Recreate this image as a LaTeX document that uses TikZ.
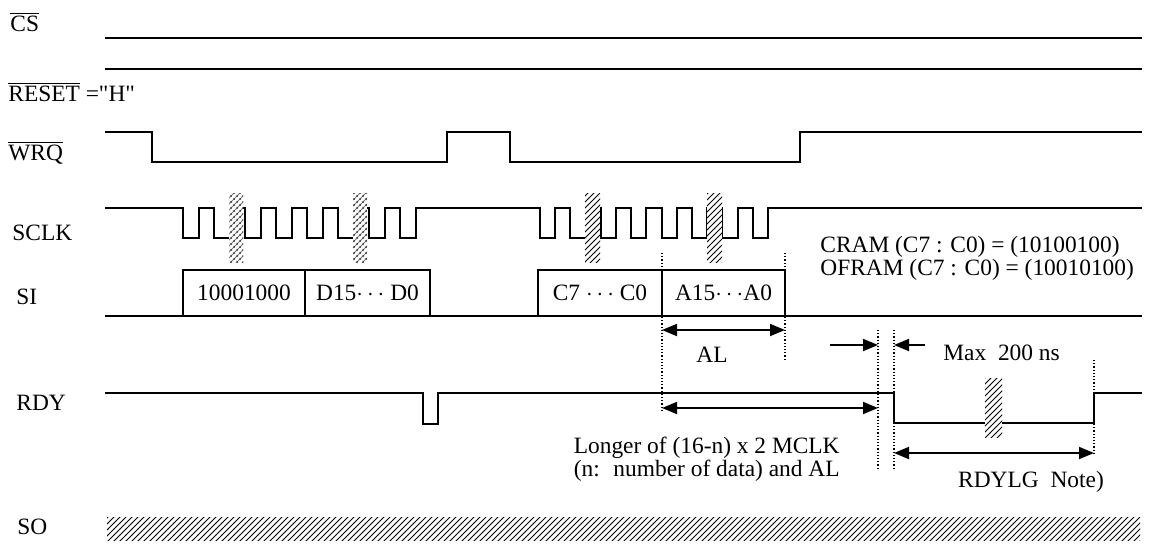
\documentclass[tikz,border=0pt]{standalone}
\usepackage{fontspec}
\setmainfont{Liberation Serif}
\usetikzlibrary{arrows.meta,patterns}

\begin{document}
\begin{tikzpicture}[x=0.5pt, y=-0.5pt,
  every node/.style={font=\fontsize{11.7}{11.7}\selectfont, inner sep=0pt},
  sig/.style={line width=1pt},
  guide/.style={densely dotted, line width=0.6pt},
  dim/.style={line width=0.9pt, >={Triangle[length=7.5pt,width=6pt]}},
  lbl/.style={anchor=west},
  bitbox/.style={draw, line width=1pt, minimum height=23pt},
  hatchbar/.style={fill=white, postaction={pattern=north east lines}},
  dotbar/.style={fill=white, postaction={pattern=north east lines, pattern color=gray},
    postaction={pattern=crosshatch dots, pattern color=black!80}}]

\useasboundingbox (0,0) rectangle (1162,547);

% signal names
\node[lbl] (cs_name) at (10,22) {$\overline{\mbox{CS}}$};
\node[lbl] (reset_name) at (8,92) {$\overline{\mbox{RESET}}$ =\textquotedbl H\textquotedbl};
\node[lbl] (wrq_name) at (8,153) {$\overline{\mbox{WRQ}}$};
\node[lbl] (sclk_name) at (12,233) {SCLK};
\node[lbl] (si_name) at (16,297) {SI};
\node[lbl] (rdy_name) at (16,403) {RDY};
\node[lbl] (so_name) at (17,527) {SO};


% CS and RESET stay put
\draw[sig] (105,38) -- (1142,38);
\draw[sig] (105,69) -- (1142,69);


% WRQ
\draw[sig] (105,132) -- (152,132) -- (152,162) -- (447,162) -- (447,132)
  -- (510,132) -- (510,162) -- (800,162) -- (800,132) -- (1142,132);


% SCLK, two bursts of 8
\draw[sig] (105,208)
  foreach \k in {0,...,7} { -- ({183+31*\k},208) -- ++(0,30) -- ++(15.5,0) -- ++(0,-30) }
  -- (540,208)
  foreach \k in {0,...,7} { -- ({540+30.4*\k},208) -- ++(0,30) -- ++(15.2,0) -- ++(0,-30) }
  -- (1142,208);

\foreach \a in {229,353}
  \draw[dotbar, draw=none] (\a,193) rectangle ++(14,69);
\foreach \a in {585,707}
  \draw[hatchbar, draw=none] (\a,193) rectangle ++(15,69);


% SI
\draw[sig] (105,316) -- (1142,316);
\node[bitbox, minimum width=61pt] (cmd) at (244,293) {10001000};
\node[bitbox, minimum width=62.5pt] (data) at (367.5,293) {D15$\cdots$ D0};
\node[bitbox, minimum width=62pt] (ctrl) at (600,293) {C7 $\cdots$ C0};
\node[bitbox, minimum width=61.5pt] (addr) at (723.5,293) {A15$\cdots$A0};

\node[lbl] (cram) at (820,247) {CRAM (C7 : C0) = (10100100)};
\node[lbl] (ofram) at (820,270) {OFRAM (C7 : C0) = (10010100)};


% RDY
\draw[sig] (105,393) -- (423,393) -- (423,424) -- (438,424) -- (438,393)
  -- (894,393) -- (894,423) -- (1094,423) -- (1094,393) -- (1142,393);
\draw[hatchbar, draw=none] (985,378) rectangle (1002,437);


% dotted marks
\draw[guide] (662,253) -- (662,410);
\draw[guide] (785,253) -- (785,360);
\draw[guide] (878,330) -- (878,468);
\draw[guide] (894,330) -- (894,468);
\draw[guide] (1094,360) -- (1094,455);


% AL
\coordinate (al_l) at (662,330);
\coordinate (al_r) at (785,330);
\draw[dim, <->] (al_l) -- (al_r);
\node (al) at (712,355) {AL};


% Max 200 ns
\coordinate (gap_in) at (830,345);
\coordinate (gap_l) at (878,345);
\coordinate (gap_r) at (894,345);
\coordinate (gap_out) at (925,345);
\draw[dim, ->] (gap_in) -- (gap_l);
\draw[dim, ->] (gap_out) -- (gap_r);
\node[lbl] (maxns) at (943,353) {Max~~200 ns};


% longer of
\coordinate (wait_l) at (662,408);
\coordinate (wait_r) at (878,408);
\draw[dim, <->] (wait_l) -- (wait_r);
\node[align=right, anchor=east] (longer) at (840,459) {Longer of (16-n) x 2 MCLK\\(n:~ number of data) and AL};


% RDYLG
\coordinate (lg_l) at (894,453);
\coordinate (lg_r) at (1094,453);
\draw[dim, <->] (lg_l) -- (lg_r);
\node (rdylg) at (1031,482) {RDYLG~~Note)};


% SO
\fill[pattern=north east lines] (107,517) rectangle (1140,540);

\end{tikzpicture}
\end{document}
